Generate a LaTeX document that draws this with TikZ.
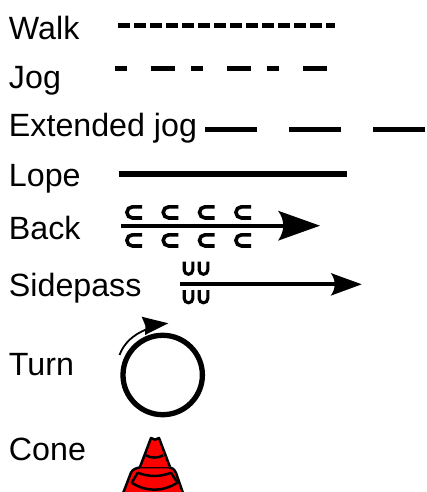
\documentclass[tikz,border=0pt]{standalone}
\usepackage{fontspec}
\setmainfont{Liberation Sans}
\tikzset{
  lbl/.style={anchor=base west,inner sep=0pt,outer sep=0pt,font=\fontsize{32.2}{38}\selectfont},
  gait/.style={line width=5.3pt,line cap=butt},
  thin shaft/.style={line width=4.2pt,line cap=butt},
  cup/.style={line width=3.6pt,line cap=butt},
  conel/.style={line width=2.5pt,black,line join=round}
}
\newcommand{\hcup}[2]{\draw[cup] (#1+17,#2) -- (#1+7.5,#2) arc[start angle=270,end angle=90,radius=5.6] -- (#1+17,#2+11.2);}
\newcommand{\vcup}[2]{\draw[line width=3.1pt] (#1,#2) -- (#1,#2+8.5) arc[start angle=180,end angle=0,radius=4.3] -- (#1+8.6,#2);}
\begin{document}
\begin{tikzpicture}[x=1pt,y=-1pt]
\useasboundingbox (0,0) rectangle (426,492);
\node[lbl] (walk) at (9,40) {Walk};
\node[lbl] (jog) at (9,89) {Jog};
\node[lbl] (ext) at (9,136) {Extended jog};
\node[lbl] (lope) at (9,186) {Lope};
\node[lbl] (back) at (9,239) {Back};
\node[lbl] (side) at (9,296) {Sidepass};
\node[lbl] (turn) at (9,375) {Turn};
\node[lbl] (cone) at (9,460) {Cone};
% walk
\foreach \i in {0,...,12} \draw[gait] (118+16*\i,25.3) -- ++(11.5,0);
\draw[gait] (326,25.3) -- (335,25.3);
% jog
\draw[gait] (115,68.7) -- (126.7,68.7);
\draw[gait] (150.7,68.7) -- (175,68.7);
\draw[gait] (191,68.7) -- (203,68.7);
\draw[gait] (227,68.7) -- (251,68.7);
\draw[gait] (266.7,68.7) -- (279,68.7);
\draw[gait] (303,68.7) -- (327,68.7);
% extended
\draw[gait] (205,129.3) -- (256.7,129.3);
\draw[gait] (289,129.3) -- (340.7,129.3);
\draw[gait] (373,129.3) -- (425,129.3);
% lope
\draw[gait] (119,174) -- (347,174);
% back
\foreach \x in {125,161.3,197.6,234} {\hcup{\x}{206.8}\hcup{\x}{234.8}}
\draw[thin shaft] (121,225.7) -- (290,225.7);
\fill (320,225.7) -- (278,210.7) .. controls (285,220) and (285,231) .. (278,240.7) -- cycle;
% sidepass
\foreach \x in {184.2,199.2} {\vcup{\x}{261.5}\vcup{\x}{290}}
\draw[thin shaft] (180,284.3) -- (340,284.3);
\fill (361.7,284.3) -- (330.7,273) .. controls (336,280) and (336,288.5) .. (330.7,295.7) -- cycle;
% turn
\draw[line width=5.3pt] (162.7,375) circle[radius=39.7];
\draw[line width=1.8pt] (119.5,355) .. controls (124,343) and (133,335) .. (146,329.5);
\fill (168.3,323.3) -- (141.7,316.7) -- (145.5,326) -- (145,335) -- cycle;
% cone
\begin{scope}
\clip (100,430) rectangle (200,492);
\draw[conel,fill=red,rounded corners=3pt] (140,467) -- (132,470) -- (122,496) -- (184,496) -- (175,470) -- (170,467) -- cycle;
\draw[conel,fill=red] (140,467) -- (151,438) -- (155,439.7) -- (159,438) -- (170,467);
\draw[conel] (145.7,455.3) .. controls (151,458.3) and (158,458.3) .. (163.3,455.3);
\draw[conel] (137.7,472.7) .. controls (148,477) and (161,477) .. (171,472.7);
\draw[conel] (137.7,472.7) -- (131.7,482.7) .. controls (146,492) and (163,492) .. (177.3,482.7) -- (171,472.7);
\end{scope}
\end{tikzpicture}
\end{document}
